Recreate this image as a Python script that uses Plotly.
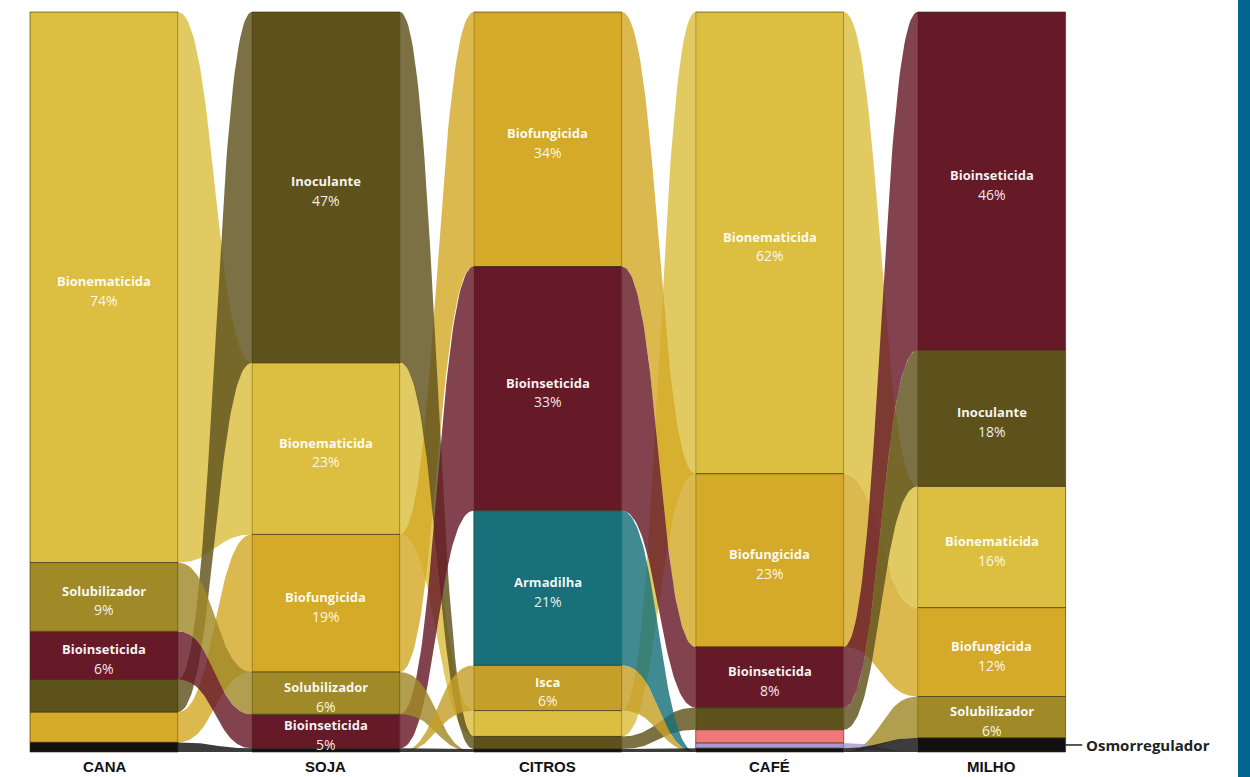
import numpy as np
import plotly.graph_objects as go

# ---------------- data ----------------
# None = category not surveyed in that crop (no ribbon), 0.0 = surveyed but zero share
columns = ["CANA", "SOJA", "CITROS", "CAFÉ", "MILHO"]
categories = ["Bionematicida", "Biofungicida", "Inoculante", "Bioinseticida",
              "Solubilizador", "Armadilha", "Isca", "Outros A", "Outros B",
              "Osmorregulador"]

bionematicida = [74.4, 23.2, 3.5, 62.4, 16.4]
biofungicida = [4.1, 18.6, 34.4, 23.4, 12.0]
inoculante = [4.4, 47.4, 1.7, 3.0, 18.4]
bioinseticida = [6.5, 4.6, 33.0, 8.2, 45.7]
solubilizador = [9.3, 5.7, 0.0, 0.0, 5.6]
armadilha = [None, None, 20.9, 0.0, None]
isca = [None, 0.0, 6.1, 0.0, None]
outros_a = [None, None, None, 1.8, None]
outros_b = [None, None, None, 0.7, 0.0]
osmorregulador = [1.3, 0.5, 0.4, 0.5, 1.9]

values = {
    "Bionematicida": bionematicida,
    "Biofungicida": biofungicida,
    "Inoculante": inoculante,
    "Bioinseticida": bioinseticida,
    "Solubilizador": solubilizador,
    "Armadilha": armadilha,
    "Isca": isca,
    "Outros A": outros_a,
    "Outros B": outros_b,
    "Osmorregulador": osmorregulador,
}

colors = {
    "Bionematicida": "#DCBE40",
    "Biofungicida": "#D4AA28",
    "Inoculante": "#5E521C",
    "Bioinseticida": "#661A28",
    "Solubilizador": "#A08A28",
    "Armadilha": "#17707A",
    "Isca": "#C4A02A",
    "Outros A": "#F07878",
    "Outros B": "#A898D0",
    "Osmorregulador": "#111111",
}

# ---------------- geometry helpers ----------------
n = len(columns)
W = 0.667  # column width in x units


def val(c, i):
    v = values[c][i]
    return 0.0 if v is None else v


def hex_rgba(h, a):
    h = h.lstrip("#")
    r, g, b = int(h[0:2], 16), int(h[2:4], 16), int(h[4:6], 16)
    return f"rgba({r},{g},{b},{a})"


# stack positions per column (largest on top)
pos = {c: [None] * n for c in categories}
for i in range(n):
    total = sum(val(c, i) for c in categories)
    order = sorted(categories, key=lambda c: (-val(c, i), categories.index(c)))
    cur = total
    for c in order:
        v = val(c, i)
        pos[c][i] = (cur - v, cur)
        cur -= v


def bez(x0, y0, x1, y1, npts=60):
    t = np.linspace(0, 1, npts)
    xm = (x0 + x1) / 2
    x = (1 - t) ** 3 * x0 + 3 * (1 - t) ** 2 * t * xm + 3 * (1 - t) * t ** 2 * xm + t ** 3 * x1
    y = (1 - t) ** 3 * y0 + 3 * (1 - t) ** 2 * t * y0 + 3 * (1 - t) * t ** 2 * y1 + t ** 3 * y1
    return x, y


fig = go.Figure()

# ---------------- ribbons ----------------
for i in range(n - 1):
    xa = i + W / 2
    xb = i + 1 - W / 2
    for c in categories:
        va, vb = values[c][i], values[c][i + 1]
        if va is None or vb is None or (va == 0 and vb == 0):
            continue
        ba, ta = pos[c][i]
        bb, tb = pos[c][i + 1]
        xt, yt = bez(xa, ta, xb, tb)
        xbm, ybm = bez(xa, ba, xb, bb)
        xs = np.concatenate([xt, xbm[::-1]])
        ys = np.concatenate([yt, ybm[::-1]])
        fig.add_trace(go.Scatter(
            x=xs, y=ys, mode="lines", fill="toself",
            fillcolor=hex_rgba(colors[c], 0.82),
            line=dict(width=0), hoverinfo="skip", showlegend=False,
        ))

# ---------------- columns ----------------
xs_cols = list(range(n))
for c in categories:
    v = [val(c, i) for i in range(n)]
    bases = [pos[c][i][0] for i in range(n)]
    fig.add_trace(go.Bar(
        x=xs_cols, y=v, base=bases, width=W,
        marker=dict(color=colors[c],
                    line=dict(color="rgba(55,45,15,0.6)",
                              width=[1 if x > 0 else 0 for x in v])),
        name=c, showlegend=False,
        hovertemplate=c + ": %{y}%<extra></extra>",
    ))

# ---------------- labels ----------------
annotations = []
for c in categories:
    for i in range(n):
        v = val(c, i)
        if round(v) >= 5:
            b, t = pos[c][i]
            ymid = (b + t) / 2
            annotations.append(dict(
                x=i, y=ymid, xref="x", yref="y", text=f"<b>{c}</b>",
                showarrow=False, yanchor="middle", yshift=6,
                font=dict(family="Open Sans", size=13, color="rgba(255,255,255,0.95)"),
            ))
            annotations.append(dict(
                x=i, y=ymid, xref="x", yref="y", text=f"{round(v)}%",
                showarrow=False, yanchor="middle", yshift=-13,
                font=dict(family="Open Sans", size=14, color="rgba(255,255,255,0.92)"),
            ))

for i, col in enumerate(columns):
    annotations.append(dict(
        x=i, y=-2.0, xref="x", yref="y", text=f"<b>{col}</b>",
        showarrow=False, yanchor="middle",
        font=dict(family="Liberation Sans", size=15, color="#111111"),
    ))

osm_y = (pos["Osmorregulador"][n - 1][0] + pos["Osmorregulador"][n - 1][1]) / 2
annotations.append(dict(
    x=n - 1 + W / 2 + 0.082, y=osm_y, xref="x", yref="y",
    text="<b>Osmorregulador</b>", showarrow=False, xanchor="left", yanchor="middle",
    font=dict(family="Open Sans", size=15, color="#222222"),
))

shapes = [
    dict(type="line", xref="x", yref="y",
         x0=n - 1 + W / 2, x1=n - 1 + W / 2 + 0.075, y0=osm_y, y1=osm_y,
         line=dict(color="#222222", width=1.5)),
    dict(type="rect", xref="paper", yref="paper", x0=1238 / 1250, x1=1.0,
         y0=0, y1=1, fillcolor="#006691", line=dict(width=0), layer="above"),
]

px_per_unit_x = 221.9
px_per_pct = 7.4
fig.update_layout(
    width=1250, height=777,
    margin=dict(l=0, r=0, t=0, b=0),
    paper_bgcolor="white", plot_bgcolor="white",
    barmode="overlay",
    showlegend=False,
    xaxis=dict(visible=False, range=[-104 / px_per_unit_x, (1250 - 104) / px_per_unit_x],
               fixedrange=True),
    yaxis=dict(visible=False, range=[-(777 - 752) / px_per_pct, 100 + 12 / px_per_pct],
               fixedrange=True),
    annotations=annotations,
    shapes=shapes,
)

fig.write_html("out.html")
